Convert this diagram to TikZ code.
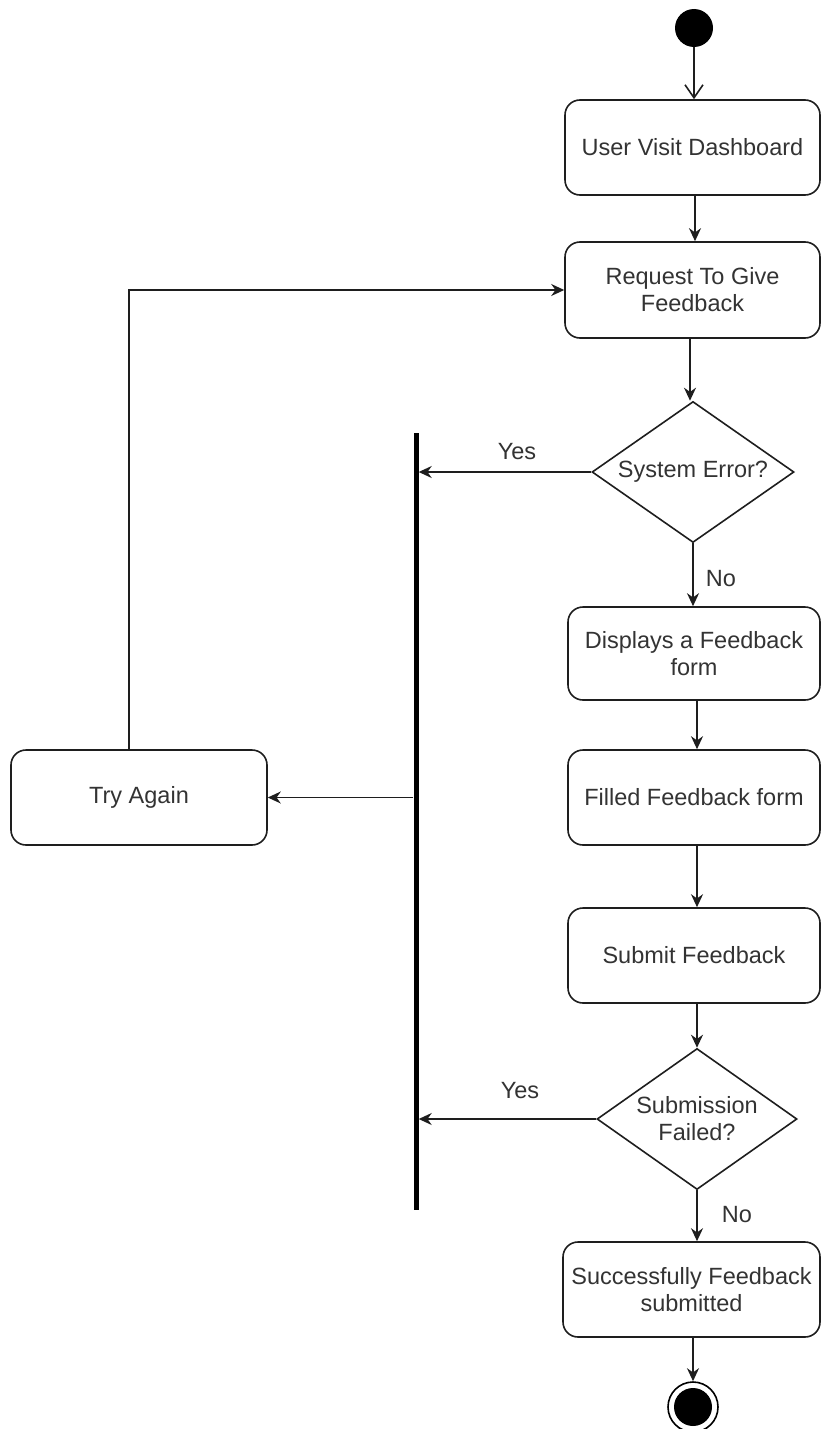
\documentclass[tikz,border=0pt]{standalone}
\usepackage{fontspec}
\setmainfont{Liberation Sans}
\usetikzlibrary{shapes.geometric,arrows.meta}
\definecolor{ink}{HTML}{1E1E1E}
\definecolor{txt}{HTML}{333333}
\tikzset{
  every node/.style={font=\fontsize{23.5}{27}\selectfont, text=txt},
  action/.style={draw=ink, line width=1.6pt, rectangle, rounded corners=15pt,
    align=center, inner sep=0pt},
  decision/.style={draw=ink, line width=1.6pt, diamond, shape aspect=1.43,
    align=center, inner sep=0pt},
  flow/.style={draw=ink, line width=1.6pt, -{Stealth[length=13pt,width=12pt]}},
  initflow/.style={draw=ink, line width=1.6pt, -{Straight Barb[length=13pt,width=18pt]}},
  lbl/.style={inner sep=0pt},
}
\begin{document}
\begin{tikzpicture}[x=1pt, y=-1pt]
  \useasboundingbox (0,0) rectangle (821,1429);
  \clip (0,0) rectangle (821,1429);

  % start and end states
  \node[circle, fill=black, minimum size=38pt, inner sep=0pt] (start) at (694,28) {};
  \node[circle, draw=black, line width=1.6pt, minimum size=50pt, inner sep=0pt,
        path picture={\fill[black] (path picture bounding box.center) circle (19pt);}]
        (stop) at (693,1407) {};

  % activities
  \node[action, minimum width=255pt, minimum height=95pt] (visit) at (692.5,147.5) {User Visit Dashboard};
  \node[action, minimum width=255pt, minimum height=96pt] (request) at (692.5,290) {Request To Give\\Feedback};
  \node[decision, minimum width=202pt, minimum height=141pt] (syserr) at (693,472) {System Error?};
  \node[action, minimum width=252pt, minimum height=93pt] (display) at (694,653.5) {Displays a Feedback\\form};
  \node[action, minimum width=252pt, minimum height=95pt] (filled) at (694,797.5) {Filled Feedback form};
  \node[action, minimum width=252pt, minimum height=95pt] (submit) at (694,955.5) {Submit Feedback};
  \node[decision, minimum width=200pt, minimum height=141pt] (subfail) at (697,1119) {Submission\\Failed?};
  \node[action, minimum width=257pt, minimum height=95pt] (done) at (691.5,1289.5) {Successfully Feedback\\submitted};
  \node[action, minimum width=256pt, minimum height=95pt] (retry) at (139,797.5) {Try Again};

  % merge bar
  \node[rectangle, fill=black, minimum width=5pt, minimum height=777pt, inner sep=0pt] (bar) at (416,821.5) {};

  % main flow
  \draw[initflow] (start) -- (start |- visit.north);
  \draw[flow] ([xshift=2.5pt]visit.south) -- ([xshift=2.5pt]request.north);
  \draw[flow] ([xshift=-2.5pt]request.south) -- ([xshift=-2.5pt]request.south |- syserr.north);
  \draw[flow] (syserr.south) -- (syserr.south |- display.north);
  \draw[flow] ([xshift=3pt]display.south) -- ([xshift=3pt]filled.north);
  \draw[flow] ([xshift=3pt]filled.south) -- ([xshift=3pt]submit.north);
  \draw[flow] ([xshift=3pt]submit.south) -- (subfail.north);
  \draw[flow] (subfail.south) -- (subfail.south |- done.north);
  \draw[flow] ([xshift=1.5pt]done.south) -- (stop.north);

  % error branches
  \draw[flow] (syserr.west) -- (syserr.west -| bar.east);
  \draw[flow] (subfail.west) -- (subfail.west -| bar.east);
  \draw[flow] (bar.west |- retry.east) -- (retry.east);
  \draw[flow] ([xshift=-10pt]retry.north) |- (request.west);

  % branch labels
  \node[lbl] (yes1) at (517,452) {Yes};
  \node[lbl] (no1) at (721,579) {No};
  \node[lbl] (yes2) at (520,1091) {Yes};
  \node[lbl] (no2) at (737,1215) {No};
\end{tikzpicture}
\end{document}
